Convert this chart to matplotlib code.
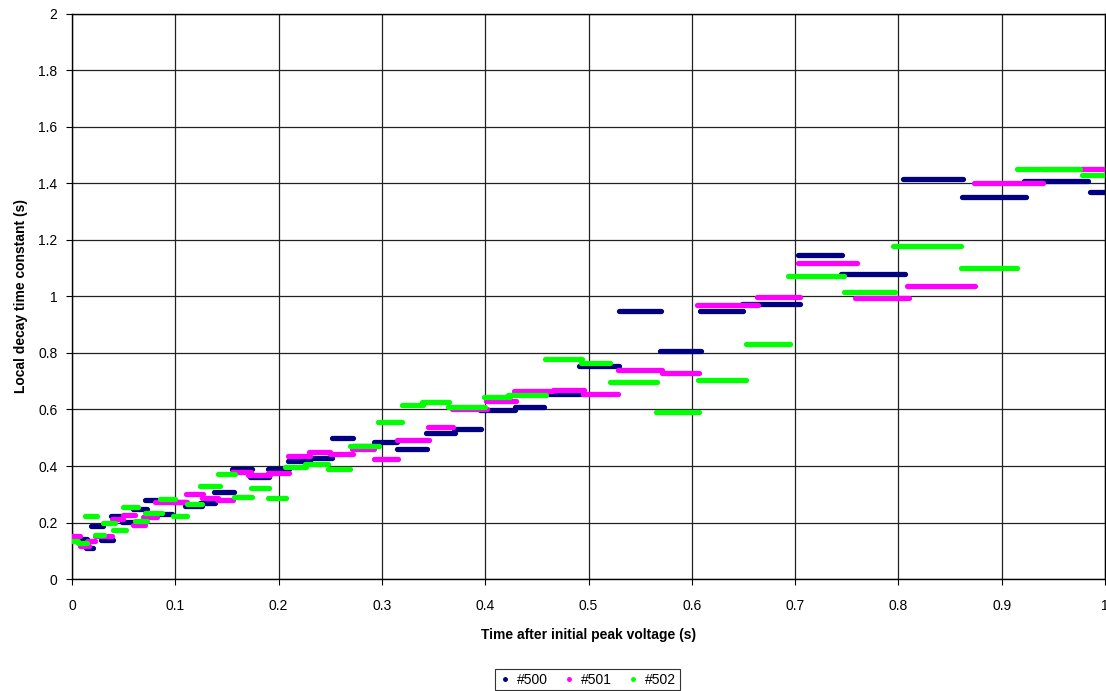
import matplotlib.pyplot as plt
from matplotlib.lines import Line2D

plt.rcParams['font.family'] = ['Liberation Sans', 'DejaVu Sans']

# step segments: start time, end time, decay constant
s500_x0 = [0.004, 0.014, 0.018, 0.028, 0.038, 0.048, 0.059, 0.071, 0.082, 0.098,
           0.109, 0.124, 0.137, 0.155, 0.172, 0.190, 0.209, 0.229, 0.252, 0.272,
           0.292, 0.315, 0.343, 0.370, 0.395, 0.429, 0.458, 0.491, 0.530, 0.569,
           0.608, 0.649, 0.703, 0.744, 0.804, 0.862, 0.922, 0.985]
s500_x1 = [0.015, 0.020, 0.030, 0.040, 0.048, 0.061, 0.073, 0.083, 0.097, 0.110,
           0.126, 0.138, 0.157, 0.174, 0.191, 0.210, 0.230, 0.252, 0.272, 0.292,
           0.315, 0.344, 0.371, 0.396, 0.429, 0.457, 0.492, 0.530, 0.570, 0.609,
           0.650, 0.705, 0.745, 0.806, 0.863, 0.924, 0.984, 1.000]
s500_y = [0.142, 0.110, 0.188, 0.138, 0.223, 0.202, 0.248, 0.280, 0.230, 0.273,
          0.258, 0.269, 0.308, 0.389, 0.361, 0.389, 0.418, 0.428, 0.499, 0.470,
          0.485, 0.460, 0.517, 0.531, 0.598, 0.609, 0.655, 0.754, 0.949, 0.807,
          0.949, 0.973, 1.147, 1.080, 1.416, 1.352, 1.409, 1.370]

s501_x0 = [0.000, 0.008, 0.015, 0.022, 0.039, 0.049, 0.059, 0.069, 0.080, 0.110,
           0.126, 0.140, 0.155, 0.170, 0.190, 0.209, 0.229, 0.250, 0.271, 0.292,
           0.315, 0.345, 0.368, 0.401, 0.428, 0.466, 0.495, 0.529, 0.571, 0.605,
           0.663, 0.703, 0.758, 0.808, 0.873, 0.940]
s501_x1 = [0.008, 0.016, 0.022, 0.039, 0.049, 0.061, 0.071, 0.082, 0.111, 0.127,
           0.141, 0.156, 0.173, 0.192, 0.210, 0.230, 0.250, 0.272, 0.292, 0.316,
           0.346, 0.369, 0.402, 0.430, 0.466, 0.496, 0.529, 0.571, 0.607, 0.664,
           0.705, 0.760, 0.810, 0.874, 0.940, 0.998]
s501_y = [0.152, 0.117, 0.134, 0.152, 0.212, 0.227, 0.191, 0.219, 0.272, 0.301,
          0.287, 0.280, 0.379, 0.368, 0.375, 0.435, 0.450, 0.443, 0.460, 0.425,
          0.492, 0.538, 0.602, 0.630, 0.665, 0.669, 0.655, 0.740, 0.729, 0.970,
          0.998, 1.119, 0.995, 1.037, 1.402, 1.451]

s502_x0 = [0.000, 0.006, 0.013, 0.022, 0.030, 0.040, 0.049, 0.061, 0.071, 0.085,
           0.098, 0.111, 0.124, 0.141, 0.157, 0.173, 0.190, 0.206, 0.226, 0.248,
           0.269, 0.296, 0.319, 0.339, 0.364, 0.399, 0.422, 0.458, 0.493, 0.521,
           0.565, 0.606, 0.652, 0.693, 0.747, 0.795, 0.861, 0.915, 0.978]
s502_x1 = [0.006, 0.015, 0.024, 0.031, 0.042, 0.052, 0.064, 0.073, 0.087, 0.100,
           0.111, 0.126, 0.143, 0.158, 0.174, 0.191, 0.207, 0.227, 0.248, 0.269,
           0.297, 0.319, 0.340, 0.365, 0.400, 0.424, 0.459, 0.494, 0.521, 0.566,
           0.607, 0.652, 0.695, 0.747, 0.797, 0.861, 0.915, 0.976, 1.000]
s502_y = [0.134, 0.127, 0.223, 0.156, 0.198, 0.173, 0.255, 0.205, 0.234, 0.283,
          0.223, 0.265, 0.329, 0.372, 0.290, 0.322, 0.287, 0.396, 0.407, 0.389,
          0.471, 0.556, 0.616, 0.627, 0.609, 0.644, 0.651, 0.779, 0.765, 0.697,
          0.591, 0.704, 0.832, 1.073, 1.016, 1.179, 1.101, 1.452, 1.430]

series = [
    ('#500', '#000080', s500_x0, s500_x1, s500_y),
    ('#501', '#FF00FF', s501_x0, s501_x1, s501_y),
    ('#502', '#00FF00', s502_x0, s502_x1, s502_y),
]

fig = plt.figure(figsize=(11.06, 6.91), dpi=100)
ax = fig.add_axes([0.0651, 0.162, 0.934, 0.818])

handles = []
for name, col, x0, x1, y in series:
    ax.hlines(y, x0, x1, colors=col, linewidth=3.8, capstyle='round', zorder=3)
    handles.append(Line2D([], [], linestyle='none', marker='o', markersize=2.5,
                          color=col, label=name))

ax.set_xlim(0, 1)
ax.set_ylim(0, 2)
xt = [i / 10 for i in range(11)]
yt = [i / 5 for i in range(11)]
ax.set_xticks(xt)
ax.set_yticks(yt)
ax.set_xticklabels([f'{v:g}' for v in xt])
ax.set_yticklabels([f'{v:g}' for v in yt])
ax.grid(True, color='#222222', linewidth=0.9, zorder=0)
ax.set_axisbelow(True)
for sp in ax.spines.values():
    sp.set_color('black')
    sp.set_linewidth(1)
ax.tick_params(direction='out', length=4, labelsize=10, colors='black')
ax.tick_params(axis='x', pad=10)
ax.tick_params(axis='y', pad=6.5)

ax.set_xlabel('Time after initial peak voltage (s)', fontsize=10, fontweight='bold', labelpad=11)
ax.set_ylabel('Local decay time constant (s)', fontsize=10, fontweight='bold', labelpad=7)

leg = fig.legend(handles=handles, loc='center', bbox_to_anchor=(0.531, 0.016), ncol=3,
                 frameon=True, fancybox=False, fontsize=10, handlelength=0.9,
                 handletextpad=0.4, columnspacing=1.1, borderpad=0.25)
leg.get_frame().set_edgecolor('black')
leg.get_frame().set_linewidth(0.8)

plt.savefig('out.png', dpi=100)
